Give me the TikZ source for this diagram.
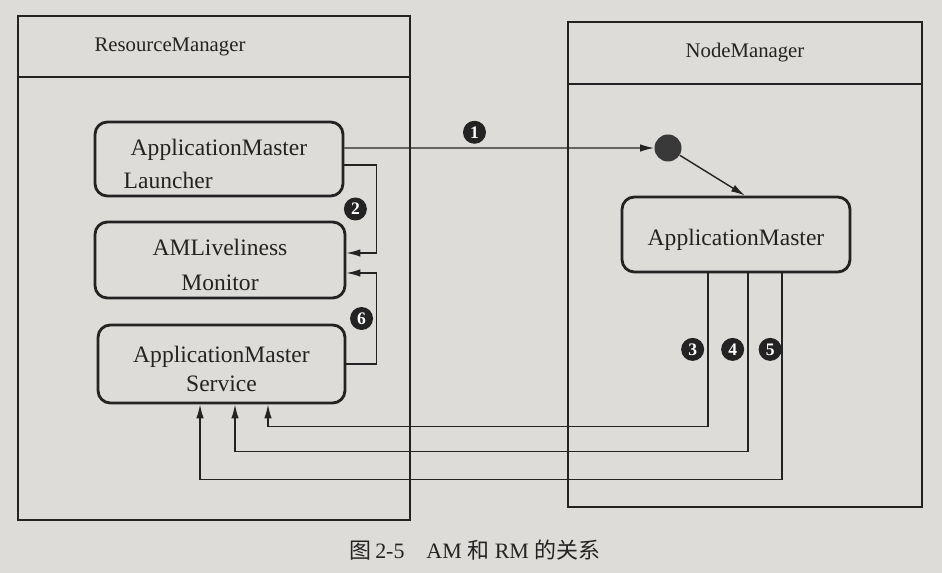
\documentclass[tikz,border=0pt]{standalone}
\usepackage{fontspec}
\setmainfont{Liberation Serif}
\newfontfamily\cjk{Noto Sans CJK SC}
\usetikzlibrary{positioning,calc,fit,arrows.meta}
\definecolor{paper}{RGB}{222,220,216}
\definecolor{ink}{RGB}{35,35,35}

\begin{document}
\begin{tikzpicture}
  [x=0.02cm, y=-0.02cm, ink,
   outerbox/.style={draw, line width=1.3pt, inner sep=0pt},
   compbox/.style={
     draw,
     line width=1.6pt,
     rounded corners=7pt,
     inner sep=0pt
     },
   boxtext/.style={
     inner sep=0pt,
     yshift=-2.8pt,
     align=center,
     font=\fontsize{13.4}{19.5}\selectfont
     },
   boxtitle/.style={font=\fontsize{11.8}{14}\selectfont},
   msg/.style={-{Latex[length=2.8mm, width=1.5mm]}, line width=0.8pt},
   stepnum/.style={
     circle,
     fill=ink,
     text=white,
     inner sep=0pt,
     minimum size=0.46cm,
     font=\normalsize\bfseries
     }
  ]
  \fill[paper] (0,0) rectangle (942,573);
  \useasboundingbox (0,0) rectangle (942,573);

  % ResourceManager
  \node [outerbox, fit={(18,16)(410,520)}] (rm) {};
  \draw [line width=1.3pt] ($(rm.north west)+(0,62)$) -- ($(rm.north east)+(0,62)$);
  \node [boxtitle] (rmtitle) at (170,47) {ResourceManager};

  \node [compbox, minimum width=4.96cm, minimum height=1.48cm,
    label={[boxtext, align=left]center:{ApplicationMaster\\[-1pt]\hspace*{-4pt}Launcher}}]
    (launcher) at (219,159) {};
  \node [compbox, minimum width=5cm, minimum height=1.52cm,
    label={[boxtext]center:{AMLiveliness\\Monitor}}]
    (monitor) at (220,260) {};
  \node [compbox, minimum width=4.94cm, minimum height=1.56cm,
    label={[boxtext]center:{ApplicationMaster\\[-3pt]Service}}]
    (service) at (221.5,364) {};

  % NodeManager
  \node [outerbox, fit={(568,22)(922,507)}] (nm) {};
  \draw [line width=1.3pt] ($(nm.north west)+(0,63)$) -- ($(nm.north east)+(0,63)$);
  \node [boxtitle] (nmtitle) at (745,53) {NodeManager};

  \node [circle, fill=ink!90, minimum size=0.54cm, inner sep=0pt] (dot) at (668,148) {};
  \node [compbox, minimum width=4.56cm, minimum height=1.5cm,
    label={[boxtext]center:ApplicationMaster}]
    (am) at (736,234.5) {};

  % launch
  \draw[msg] ([yshift=0.22cm]launcher.east) -- (dot.west)
    node[stepnum, pos=0.42, above=2pt] (s1) {1};
  \draw[msg] (dot) -- ([xshift=0.18cm]am.north);

  % register with liveliness monitor
  \draw[msg] ([yshift=-0.12cm]launcher.east) -- ++(32,0) |- ([yshift=0.14cm]monitor.east)
    node[stepnum, pos=0.25, left=5pt] (s2) {2};
  \draw[msg] (service.east) -- ++(30,0) |- ([yshift=-0.26cm]monitor.east)
    node[stepnum, pos=0.25, left=1.5pt] (s6) {6};

  % AM -> ApplicationMasterService
  \coordinate (am3) at ([xshift=-0.56cm]am.south);
  \coordinate (am4) at ([xshift=0.24cm]am.south);
  \coordinate (am5) at ([xshift=0.92cm]am.south);
  \coordinate (ams3) at ([xshift=0.93cm]service.south);
  \coordinate (ams4) at ([xshift=0.27cm]service.south);
  \coordinate (ams5) at ([xshift=-0.43cm]service.south);

  \draw[msg] (am3) |- ($(ams3)+(0,22)$) -- (ams3);
  \draw[msg] (am4) |- ($(ams4)+(0,47)$) -- (ams4);
  \draw[msg] (am5) |- ($(ams5)+(0,75)$) -- (ams5);
  \node[stepnum, left=2pt] (s3) at ($(am3)+(0,76)$) {3};
  \node[stepnum, left=2pt] (s4) at ($(am4)+(0,76)$) {4};
  \node[stepnum, left=0pt] (s5) at ($(am5)+(0,76)$) {5};

  % caption
  \node[font=\fontsize{12.5}{14}\selectfont] (caption) at (475,550)
    {{\cjk 图}\,2-5\quad AM {\cjk 和} RM {\cjk 的关系}};
\end{tikzpicture}
\end{document}
